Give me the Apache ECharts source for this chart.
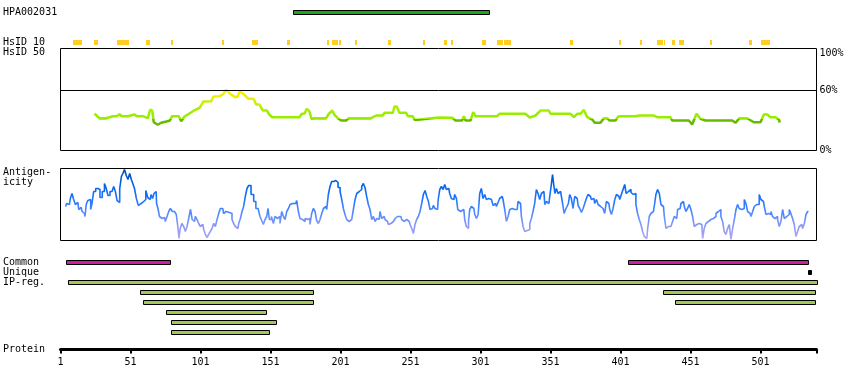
<!DOCTYPE html>
<html><head><meta charset="utf-8">
<script src="https://cdn.jsdelivr.net/npm/echarts@6/dist/echarts.min.js"></script>
<style>html,body{margin:0;padding:0;background:#fff}#c{width:850px;height:390px}</style>
</head><body><div id="c"></div>
<script>
// ---------------- data ----------------
const proteinLength = 541;
const trackRows = ['HPA002031', '', '', 'HsID 10'];
const hpaRegion = [[0, 167, 307]];
const hsid10Marks = [
  [3,10,16],[3,25,28],[3,41,47],[3,47,50],[3,62,65],[3,80,81],[3,116,118],[3,138,142],[3,163,165],
  [3,191,193],[3,195,199],[3,200,201],[3,211,213],[3,235,237],[3,260,261],[3,275,277],[3,280,281],
  [3,302,305],[3,313,317],[3,318,323],[3,365,367],[3,400,401],[3,415,416],[3,427,431],[3,432,433],
  [3,438,440],[3,443,446],[3,465,466],[3,493,495],[3,501,508]
];
const hsid50 = [
  [25.3,36.7],[26.5,38.3],[28.9,32.3],[33.6,32.3],[34.8,34.3],[38.4,34.3],[39.6,36.3],[41.2,34.3],[43.1,36.3],
  [44.8,34.3],[49.1,34.3],[50.3,36],[53.9,36],[55.5,34.3],[59.8,34.3],[61,32.3],[63.4,32.3],[65,40.7],[66.5,40],
  [67.6,28.3],[70.5,25.7],[72.9,27.7],[78.9,29.7],[80.8,34.3],[85.5,34.3],[87.2,29.3],[89.6,34],[93.1,37],
  [95.5,39.3],[100.3,42.7],[103.1,49],[108.6,49.3],[110.3,54],[114.6,54.3],[117,56],[119.4,60.7],[122.2,56.7],
  [125.8,53.3],[127.6,54],[128.9,59],[131.7,56.7],[135.3,51.7],[138.9,51.7],[140.8,46],[143.1,46],[145.5,40],
  [148.4,40],[150.3,35.7],[152.2,33.3],[171.7,33.3],[173.4,36.7],[175.3,37],[176.9,41.7],[178.9,39],[180.1,32],
  [181.2,30],[182.4,32.3],[190.8,32.3],[192.6,36.7],[195.1,40],[196.7,35.7],[199.1,32.3],[201.5,30],[205.1,30],
  [206.9,32.3],[222.9,32.3],[224.1,31],[226.5,35],[231.2,35],[232.4,37.7],[238.4,37.7],[239.6,44.3],[241.2,44],
  [243.1,37.7],[247.9,37.7],[249.1,34.3],[252.6,34.3],[253.9,30.7],[256.2,30.7],[257.4,32.3],[271.2,33],
  [280.8,32.7],[283.1,30],[287.9,30],[289.1,34.3],[290.3,30],[293.9,30],[295.8,38.3],[297.4,34.3],[312.9,34.3],
  [314.6,36.7],[324.8,36.7],[326,35],[329.6,36.7],[330.8,38.3],[333.1,36.7],[336.2,33],[340.3,35],[343.9,40],
  [349.8,40],[351,36.7],[365.3,36.7],[367.7,33.3],[370.1,36.7],[372.4,36.7],[374.8,40.7],[377.2,33.3],[380.8,31],
  [382.6,27.7],[386.7,27.7],[389.1,32.3],[391.5,32.3],[393.1,30],[397.4,30],[399.4,34],[402.2,34.3],[411.7,34.3],
  [414.1,35],[424.8,35],[427.2,33.3],[436.7,33.3],[437.9,30],[449.8,30],[452.2,26],[455.3,36.7],[458.1,31.7],
  [461.7,30],[480.8,30],[483.1,27.7],[486,32.3],[491.5,32.3],[496.2,28.3],[501,28.3],[503.4,36],[505.8,36],
  [508.1,33.3],[511.7,33.3],[514.1,31],[514.8,28]
];
const hsidAxisTicks = [0, 60, 100];
const antigenicity = [
  [4.6,34],[6.2,37],[7.4,36],[8.6,42],[9.8,47],[11,41],[12.2,36],[13.4,38],[14.6,31],[15.8,33],[17,29],[18.1,27],[18.9,24],
  [19.8,36],[21.2,40],[22.2,41],[22.9,31],[24.1,37],[25.3,49],[27,52],[28.4,51],[30,43],[31.7,49],[33.1,57],[34.3,52],
  [35.5,45],[37.2,49],[38.4,47],[39.6,54],[40.8,49],[42,40],[42.7,38],[43.9,52],[45.1,64],[46,67],[47.4,71],[48.6,65],
  [49.8,61],[51,67],[52.2,61],[53.1,57],[54.6,52],[55.8,42],[57.4,35],[58.6,37],[59.8,39],[61.2,41],[62.7,50],[63.9,43],
  [65.1,41],[66.2,46],[67.4,42],[68.1,47],[69.3,49],[70,37],[71.2,32],[72.2,24],[73.6,22],[75.3,23],[76.5,19],[77.7,24],
  [78.9,29],[80.1,32],[81.7,29],[83.1,31],[84.3,26],[85.3,14],[86,2],[87,12],[88.4,17],[89.6,14],[90.8,9],[92,14],
  [93.1,22],[94.6,31],[95.5,21],[96.7,19],[97.9,24],[99.1,21],[100.3,17],[101.5,14],[102.7,16],[103.9,11],[105.1,6],
  [106.2,3],[107.4,6],[108.6,9],[109.8,12],[111,17],[112.2,14],[113.4,21],[114.6,27],[115.8,32],[116.9,32],[118.1,27],
  [119.3,29],[121.7,28],[122.9,27],[124.1,21],[125.3,17],[126.5,14],[127.7,12],[128.9,17],[130.1,22],[131.2,29],
  [132.4,34],[133.6,44],[134.8,52],[136,55],
  [138.2,46],[139.8,39],[141.3,32],[142.9,31],[144.1,24],[145.3,20],[146.5,16],[147.7,21],[148.9,24],[149.6,32],
  [150.8,21],[152.5,24],[153.6,17],[154.8,24],[156,22],[157.2,24],[158.4,17],[159.6,29],[160.8,24],[162,21],[163.2,29],
  [164.4,32],[165.6,36],[166.7,37],[169.1,37],[170.3,40],[171.5,29],[172.7,22],[173.9,21],[175.1,19],[176.3,22],
  [177.5,21],[178.6,22],[179.8,16],[181,27],[182.2,32],[183.4,29],[184.6,20],[185.8,17],[187,21],[188.2,27],[189.4,32],
  [190.6,34],[191.7,31],[192.9,46],[194.1,54],[195.3,59],[197,60],[198.4,58],[200.1,53],[201.3,49],[202.5,41],
  [203.6,32],[204.8,26],[206,21],[207.2,19],[208.4,21],[209.6,19],[210.8,31],[212,41],[213.2,47],[214.4,49],[215.6,51],
  [216.7,54],[217.9,57],[219.1,53],[220.3,44],[221.5,36],[222.7,31],[223.9,21],[225.1,24],[226.3,19],[227.5,22],
  [228.6,21],[229.8,29],[231,22],[232.2,24],[233.4,21],[234.6,19],[235.8,16],[237,17],[238.2,19],[239.4,21],[240.6,22],
  [241.7,24],[244.1,24],[245.3,21],[246.5,19],[247.7,21],[248.9,20],[250.1,19],[251.3,16],[252.5,12],[253.6,7],
  [254.8,16],[256,21],[257.2,24],[258.4,29],[259.6,37],[260.8,46],[262,50],[263.2,44],[264.4,39],[265.5,31],[266.7,32],
  [267.9,35],[269.1,32],[270.3,31],
  [271.3,41],[272.5,51],[273.7,54],[274.9,51],[276,56],[277.2,51],[278.4,52],[279.6,47],[280.8,42],[282,41],[283.2,46],
  [284.4,42],[285.1,31],[286.8,29],[289.1,31],[290.3,21],[291.5,14],[292.2,12],[292.7,19],[293.9,31],[295.1,34],
  [296.3,32],[297.5,26],[298.7,22],[299.9,26],[301,47],[302.2,52],[303.4,42],[304.6,46],[305.8,41],[307,42],[308.2,41],
  [309.4,39],[310.6,35],[311.8,37],[312.9,34],[314.1,38],[315.3,42],[316.5,44],[317.7,41],[318.9,31],[320.1,19],
  [321.3,24],[322.5,31],[323.7,32],[324.9,31],[326,31],[327.2,31],[328.4,39],[329.6,37],[330.8,24],[332,14],[333.2,9],
  [334.4,10],[335.6,11],[336.8,17],[337.9,22],[339.1,29],[340.3,37],[341.5,51],[342.7,47],[343.9,41],[345.1,47],
  [346.3,49],[347.5,36],[348.7,39],[349.9,37],[351,44],[352.2,56],[352.7,66],[353.7,57],[354.6,47],[355.8,52],[357,47],
  [358.2,49],[359.4,44],[360.1,36],[361.3,27],[362.2,31],[363.4,34],[364.1,37],[365.3,46],[366.5,42],[367.7,32],
  [368.9,44],[370.1,42],[371.3,35],[372.5,32],[373.7,28],[374.9,32],[376,37],[377.2,42],[378.4,46],[379.6,44],
  [380.8,41],[382,42],[383.2,37],[384.4,41],[385.6,36],[386.8,34],[388,32],[389.1,31],[390.3,27],[391.5,39],[392.7,37],
  [393.9,31],[395.1,26],[396.3,32],[397.5,41],[398.7,46],[399.9,44],[401,41],[402.2,46],[403.4,51],[404.6,56],
  [405.5,47],[406.7,49],[407.9,51],[409.1,48],[410.2,46],[411.4,47],[412.6,36],[413.8,27],[415,21],[416.2,16],
  [417.4,9],[418.6,4],[419.8,2],[421,12],[422.1,24],[423.3,27],[424.5,29],[425.7,34],[426.9,46],[428.1,51],[429.3,47],
  [430.5,36],[431.7,34],[432.9,24],[434.1,12],[435.2,14],[436.4,14],[437.6,16],[438.8,19],[440,24],[441.2,22],
  [442.4,31],[443.6,32],[444.8,37],[446,39],[447.1,34],[448.3,29],[449.5,32],[450.7,36],[451.9,31],[453.1,24],
  [454.3,14],[455.5,16],[456.7,17],[457.9,19],[459.1,16],[460.2,2],[461.4,12],[462.6,17],[463.8,19],[465,21],
  [466.2,21],[467.4,22],[468.6,24],[469.8,27],[471,29],[472.1,31],[473.3,24],[474.5,19],[475.7,9],[476.9,6],
  [478.1,12],[479.3,16],[480.5,1],[481.7,12],[482.9,21],[484.1,31],[485.2,36],[486.4,32],[487.6,31],[488.8,32],
  [490,41],[491.2,37],[492.4,29],[493.6,27],[494.8,24],[496,29],[497.1,34],[498.3,36],[499.5,36],[500.7,46],
  [501.9,41],[503.1,39],[504.3,34],[505.5,26],[506.7,27],[507.9,26],[509,29],[510.2,24],[511.4,22],[512.6,24],
  [513.8,21],[515,14],[516.2,19],[517.4,31],[518.6,22],[519.8,24],[521,26],[522.1,31],[523.3,27],[524.5,22],
  [525.7,16],[526.9,4],[528.1,9],[529.3,14],[530.5,16],[531.7,12],[532.9,17],[534.1,26],[535.3,29]
];
const featureRows = ['Common', 'Unique', 'IP-reg.', '', '', '', '', ''];
// [row, start, end, kind] kind: 0 common, 1 unique, 2 IP-region
const featureBars = [
  [0,5,79,0],[0,406,535,0],
  [1,535,537,1],
  [2,6,541,2],
  [3,58,181,2],[3,431,540,2],
  [4,60,181,2],[4,440,540,2],
  [5,76,148,2],
  [6,80,155,2],
  [7,80,150,2]
];
const proteinTicks = [1,51,101,151,201,251,301,351,401,451,501,541];
const proteinTickLabels = [1,51,101,151,201,251,301,351,401,451,501];

// ---------------- chart ----------------
const FONT = 'DejaVu Sans Mono';
const L = 60.5, W = 756;
const chart = echarts.init(document.getElementById('c'), null, {renderer: 'canvas'});

function rectRenderer(h, fills, strokes) {
  return function (params, api) {
    const row = api.value(0), s = api.value(1), e = api.value(2), k = api.value(3) || 0;
    const a = api.coord([s, row]), b = api.coord([e, row]);
    const stroke = strokes ? strokes[k] : null;
    const x0 = Math.round(a[0]), x1 = Math.round(b[0]);
    const off = stroke ? 0.5 : 0;
    return {
      type: 'rect',
      shape: {x: x0 + off, y: Math.floor(a[1] - h / 2) + off, width: Math.max(1, x1 - x0), height: h},
      style: {fill: fills[k], stroke: stroke, lineWidth: stroke ? 1 : 0}
    };
  };
}
function xAx(gi, show) {
  return {gridIndex: gi, type: 'value', min: 1, max: proteinLength, show: !!show,
    splitLine: {show: false}};
}
const catLabel = {show: true, interval: 0, align: 'left', margin: 57.5, color: '#000', fontFamily: FONT, fontSize: 10};

chart.setOption({
  animation: false,
  backgroundColor: '#fff',
  grid: [
    {left: L, width: W, top: 7.5, height: 40},
    {left: L, width: W, top: 48.5, height: 102, show: true, borderColor: '#000', borderWidth: 1},
    {left: L, width: W, top: 168.5, height: 72, show: true, borderColor: '#000', borderWidth: 1},
    {left: L, width: W, top: 257.5, height: 80},
    {left: L, width: W, top: 348.5, height: 1}
  ],
  xAxis: [
    xAx(0), xAx(1), xAx(2), xAx(3),
    {gridIndex: 4, type: 'value', min: 1, max: proteinLength, position: 'bottom',
      splitLine: {show: false},
      axisLine: {show: true, lineStyle: {color: '#000', width: 3}},
      axisTick: {show: true, length: 4, lineStyle: {color: '#000', width: 2}, customValues: proteinTicks},
      axisLabel: {show: true, margin: 8, color: '#000', fontFamily: FONT, fontSize: 10,
        customValues: proteinTickLabels}}
  ],
  yAxis: [
    {gridIndex: 0, type: 'category', data: trackRows, inverse: true,
      axisLine: {show: false}, axisTick: {show: false}, splitLine: {show: false}, axisLabel: catLabel},
    {gridIndex: 1, type: 'value', min: 0, max: 102, position: 'right',
      axisLine: {show: false}, axisTick: {show: false}, splitLine: {show: false},
      axisLabel: {show: true, margin: 3, color: '#000', fontFamily: FONT, fontSize: 10,
        customValues: hsidAxisTicks,
        formatter: v => v === 100 ? '{lo|100%}' : v + '%',
        rich: {lo: {padding: [6, 0, 0, 0], fontFamily: FONT, fontSize: 10, color: '#000'}}}},
    {gridIndex: 2, type: 'value', min: 0, max: 72, show: false, splitLine: {show: false}},
    {gridIndex: 3, type: 'category', data: featureRows, inverse: true,
      axisLine: {show: false}, axisTick: {show: false}, splitLine: {show: false}, axisLabel: catLabel},
    {gridIndex: 4, type: 'value', show: false, splitLine: {show: false}}
  ],
  visualMap: [
    {type: 'piecewise', show: false, seriesIndex: 2, dimension: 1,
      pieces: [
        {lt: 31, color: '#66bb00'},
        {gte: 31, lt: 38, color: '#99ee00'},
        {gte: 38, lt: 44, color: '#aaee00'},
        {gte: 44, lt: 50, color: '#ccee00'},
        {gte: 50, lt: 56, color: '#eeee00'},
        {gte: 56, color: '#ffee00'}
      ]},
    {type: 'continuous', show: false, seriesIndex: 3, dimension: 1, min: 0, max: 72,
      inRange: {color: ['#b4a6f4', '#8c98f6', '#4c88ff', '#1a72ff', '#0062e6', '#0046b0']}}
  ],
  graphic: [
    {type: 'text', left: 3, top: 47, style: {text: 'HsID 50', fill: '#000', font: '10px "' + FONT + '"'}},
    {type: 'text', left: 3, top: 167, style: {text: 'Antigen-\nicity', fill: '#000', lineHeight: 10, font: '10px "' + FONT + '"'}},
    {type: 'text', left: 3, top: 344, style: {text: 'Protein', fill: '#000', font: '10px "' + FONT + '"'}}
  ],
  series: [
    {type: 'custom', xAxisIndex: 0, yAxisIndex: 0, data: hpaRegion, encode: {x: [1, 2], y: 0},
      renderItem: rectRenderer(4, ['#22a31a'], ['#000']), silent: true},
    {type: 'custom', xAxisIndex: 0, yAxisIndex: 0, data: hsid10Marks, encode: {x: [1, 2], y: 0},
      renderItem: rectRenderer(5, ['#ffcc22'], null), silent: true},
    {type: 'line', xAxisIndex: 1, yAxisIndex: 1, data: hsid50, showSymbol: false, symbol: 'none',
      lineStyle: {width: 2.5}, silent: true,
      markLine: {silent: true, symbol: 'none', label: {show: false},
        lineStyle: {color: '#000', width: 1, type: 'solid'}, data: [{yAxis: 60}]}},
    {type: 'line', xAxisIndex: 2, yAxisIndex: 2, data: antigenicity, showSymbol: false, symbol: 'none',
      step: 'middle', lineStyle: {width: 1.6}, silent: true},
    {type: 'custom', xAxisIndex: 3, yAxisIndex: 3, data: featureBars, encode: {x: [1, 2], y: 0},
      renderItem: rectRenderer(4, ['#cc1fa3', '#000', '#a3c85a'], ['#000', '#000', '#000']), silent: true}
  ]
});
</script></body></html>
